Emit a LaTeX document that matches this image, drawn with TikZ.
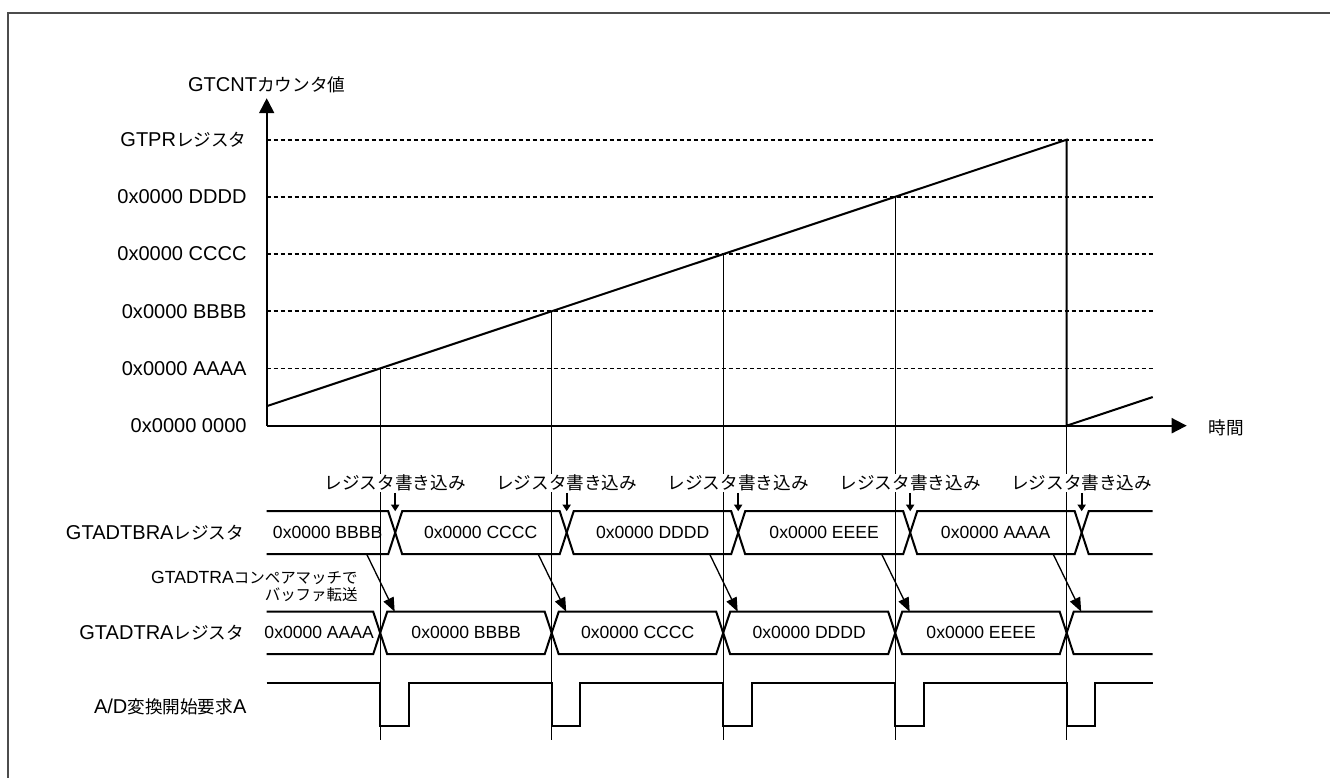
\documentclass[tikz,border=0pt]{standalone}
\usepackage{fontspec}
\setmainfont{Liberation Sans}
\newfontfamily\jpfont[Scale=0.88]{Noto Sans CJK JP}
\newcommand{\jp}[1]{{\jpfont #1}}
\usetikzlibrary{arrows.meta, positioning}

\begin{document}
\begin{tikzpicture}[
    every node/.style={font=\fontsize{11.4}{13.7}\selectfont, inner sep=1pt},
    ax/.style={-{Triangle[length=0.3cm, width=0.3cm]}, line width=1.1pt},
    wave/.style={line width=1.15pt, line join=miter},
    lvline/.style={line width=1.1pt, dash pattern=on 0.08cm off 0.06cm},
    vl/.style={line width=0.55pt},
    lv/.style={anchor=east},
    sig/.style={anchor=east},
    val/.style={font=\fontsize{10}{12}\selectfont},
    wr/.style={fill=white, inner sep=0.6pt},
    wa/.style={-{Triangle[length=0.13cm, width=0.16cm]}, line width=1.1pt},
    ta/.style={-{Triangle[length=0.28cm, width=0.22cm]}, line width=0.75pt}
]
\useasboundingbox (-5.334,-7.046) rectangle (21.266,8.514);
% frame (only top and left edge in view)
\draw[draw=black!70, line width=1.1pt] (21.27,8.25) -- (-5.17,8.25) -- (-5.17,-7.05);

% level labels
\node[lv] (l0) at (-0.36,0)     {0x0000 0000};
\node[lv] (l1) at (-0.36,1.144) {0x0000 AAAA};
\node[lv] (l2) at (-0.36,2.288) {0x0000 BBBB};
\node[lv] (l3) at (-0.36,3.432) {0x0000 CCCC};
\node[lv] (l4) at (-0.36,4.576) {0x0000 DDDD};
\node[lv] (l5) at (-0.36,5.72)  {GTPR\jp{レジスタ}};
\draw[lvline] (0,1.144) -- (17.72,1.144);
\draw[lvline] (0,2.288) -- (17.72,2.288);
\draw[lvline] (0,3.432) -- (17.72,3.432);
\draw[lvline] (0,4.576) -- (17.72,4.576);
\draw[lvline] (0,5.72)  -- (17.72,5.72);

% compare match points
\coordinate (m1) at (2.27,1.144);
\coordinate (m2) at (5.70,2.288);
\coordinate (m3) at (9.13,3.432);
\coordinate (m4) at (12.57,4.576);
\coordinate (m5) at (16.00,5.72);
\draw[vl] (m1) -- (2.27,-6.29);
\draw[vl] (m2) -- (5.70,-6.29);
\draw[vl] (m3) -- (9.13,-6.29);
\draw[vl] (m4) -- (12.57,-6.29);
\draw[vl] (m5) -- (16.00,-6.29);

% axes
\coordinate (o) at (0,0);
\coordinate (ytip) at (0,6.55);
\coordinate (xtip) at (18.4,0);
\node (yl) at (0,6.81) {GTCNT\jp{カウンタ値}};
\node[anchor=west] (xl) at (18.8,-0.05) {\jp{時間}};
\draw[ax] (o) -- (ytip);
\draw[ax] (o) -- (xtip);

% counter ramp
\draw[wave] (0,0.39) -- (m5) -- (16.00,0) -- (17.72,0.573);

% register write
\node[wr] (w1) at (2.57,-1.15)  {\jp{レジスタ書き込み}};
\node[wr] (w2) at (6.00,-1.15)  {\jp{レジスタ書き込み}};
\node[wr] (w3) at (9.43,-1.15)  {\jp{レジスタ書き込み}};
\node[wr] (w4) at (12.87,-1.15) {\jp{レジスタ書き込み}};
\node[wr] (w5) at (16.30,-1.15) {\jp{レジスタ書き込み}};
\coordinate (b1) at (2.57,-1.71);
\coordinate (b2) at (6.00,-1.71);
\coordinate (b3) at (9.43,-1.71);
\coordinate (b4) at (12.87,-1.71);
\coordinate (b5) at (16.30,-1.71);
\draw[wa] (w1.south) -- (b1);
\draw[wa] (w2.south) -- (b2);
\draw[wa] (w3.south) -- (b3);
\draw[wa] (w4.south) -- (b4);
\draw[wa] (w5.south) -- (b5);

% GTADTBRA bus
\node[sig] (sb) at (-0.41,-2.14) {GTADTBRA\jp{レジスタ}};
\draw[wave] (0,-1.71) -- (2.43,-1.71) -- (2.71,-2.57) -- (5.86,-2.57) -- (6.14,-1.71) -- (9.29,-1.71) -- (9.57,-2.57) -- (12.73,-2.57) -- (13.01,-1.71) -- (16.16,-1.71) -- (16.44,-2.57) -- (17.72,-2.57);
\draw[wave] (0,-2.57) -- (2.43,-2.57) -- (2.71,-1.71) -- (5.86,-1.71) -- (6.14,-2.57) -- (9.29,-2.57) -- (9.57,-1.71) -- (12.73,-1.71) -- (13.01,-2.57) -- (16.16,-2.57) -- (16.44,-1.71) -- (17.72,-1.71);
\node[val] (vb1) at (1.22,-2.14)  {0x0000 BBBB};
\node[val] (vb2) at (4.28,-2.14)  {0x0000 CCCC};
\node[val] (vb3) at (7.72,-2.14)  {0x0000 DDDD};
\node[val] (vb4) at (11.15,-2.14) {0x0000 EEEE};
\node[val] (vb5) at (14.58,-2.14) {0x0000 AAAA};

% buffer transfer
\node[val, anchor=east, align=right, font=\fontsize{10}{9.8}\selectfont] (tr) at (1.86,-3.22) {GTADTRA\jp{コンペアマッチで}\\\jp{バッファ転送}};
\coordinate (s1) at (2.00,-2.57);
\coordinate (s2) at (5.43,-2.57);
\coordinate (s3) at (8.86,-2.57);
\coordinate (s4) at (12.30,-2.57);
\coordinate (s5) at (15.73,-2.57);
\coordinate (d1) at (2.56,-3.72);
\coordinate (d2) at (5.99,-3.72);
\coordinate (d3) at (9.42,-3.72);
\coordinate (d4) at (12.86,-3.72);
\coordinate (d5) at (16.29,-3.72);
\draw[ta] (s1) -- (d1);
\draw[ta] (s2) -- (d2);
\draw[ta] (s3) -- (d3);
\draw[ta] (s4) -- (d4);
\draw[ta] (s5) -- (d5);

% GTADTRA bus
\node[sig] (sa) at (-0.41,-4.145) {GTADTRA\jp{レジスタ}};
\draw[wave] (0,-3.72) -- (2.13,-3.72) -- (2.41,-4.57) -- (5.56,-4.57) -- (5.84,-3.72) -- (8.99,-3.72) -- (9.27,-4.57) -- (12.43,-4.57) -- (12.71,-3.72) -- (15.86,-3.72) -- (16.14,-4.57) -- (17.72,-4.57);
\draw[wave] (0,-4.57) -- (2.13,-4.57) -- (2.41,-3.72) -- (5.56,-3.72) -- (5.84,-4.57) -- (8.99,-4.57) -- (9.27,-3.72) -- (12.43,-3.72) -- (12.71,-4.57) -- (15.86,-4.57) -- (16.14,-3.72) -- (17.72,-3.72);
\node[val] (va1) at (1.05,-4.145)  {0x0000 AAAA};
\node[val] (va2) at (3.99,-4.145)  {0x0000 BBBB};
\node[val] (va3) at (7.42,-4.145)  {0x0000 CCCC};
\node[val] (va4) at (10.85,-4.145) {0x0000 DDDD};
\node[val] (va5) at (14.29,-4.145) {0x0000 EEEE};

% A/D start request
\node[sig] (sr) at (-0.36,-5.62) {A/D\jp{変換開始要求}A};
\draw[wave] (0,-5.14) -- (2.27,-5.14) -- (2.27,-6.01) -- (2.84,-6.01) -- (2.84,-5.14) -- (5.70,-5.14) -- (5.70,-6.01) -- (6.27,-6.01) -- (6.27,-5.14) -- (9.13,-5.14) -- (9.13,-6.01) -- (9.70,-6.01) -- (9.70,-5.14) -- (12.57,-5.14) -- (12.57,-6.01) -- (13.14,-6.01) -- (13.14,-5.14) -- (16.00,-5.14) -- (16.00,-6.01) -- (16.57,-6.01) -- (16.57,-5.14) -- (17.72,-5.14);
\end{tikzpicture}
\end{document}
